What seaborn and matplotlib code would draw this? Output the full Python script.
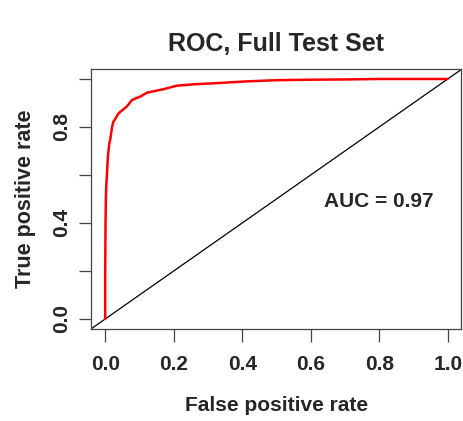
import numpy as np
import pandas as pd
import matplotlib
matplotlib.use('Agg')
import matplotlib.pyplot as plt
import seaborn as sns

# ROC curve points
fpr = [0.0, 0.0, 0.001, 0.002, 0.003, 0.005, 0.008, 0.012, 0.015, 0.02, 0.024,
       0.03, 0.039, 0.05, 0.063, 0.078, 0.09, 0.102, 0.122, 0.145, 0.169,
       0.209, 0.26, 0.316, 0.413, 0.5, 0.6, 0.7, 0.8, 0.9, 1.0]
tpr = [0.0, 0.2, 0.4, 0.5, 0.55, 0.6, 0.68, 0.73, 0.75, 0.8, 0.822,
       0.835, 0.857, 0.87, 0.885, 0.912, 0.92, 0.926, 0.943, 0.95, 0.957,
       0.972, 0.978, 0.982, 0.99, 0.995, 0.997, 0.998, 1.0, 1.0, 1.0]
auc_text = 'AUC = 0.97'
tick_vals = [0.0, 0.2, 0.4, 0.6, 0.8, 1.0]
ytick_labels = ['0.0', '', '0.4', '', '0.8', '']

roc = pd.DataFrame({'fpr': fpr, 'tpr': tpr})

sns.set_style('white')
plt.rcParams['font.family'] = ['Liberation Sans', 'DejaVu Sans']
plt.rcParams['font.weight'] = 'bold'

fig = plt.figure(figsize=(4.63, 4.21), dpi=100)
ax = fig.add_axes([0.1976, 0.2195, 0.799, 0.6157])

# diagonal de referencia (como abline en R)
ax.axline((0, 0), (1, 1), color='black', lw=0.9, zorder=1)

sns.lineplot(data=roc, x='fpr', y='tpr', sort=False, estimator=None,
             color='red', lw=1.8, ax=ax, zorder=2)

ax.set_xlim(-0.04, 1.04)
ax.set_ylim(-0.04, 1.04)

ax.set_xticks(tick_vals)
ax.set_xticklabels(['%.1f' % v for v in tick_vals])
ax.set_yticks(tick_vals)
ax.set_yticklabels(ytick_labels, rotation=90, va='center')

ax.tick_params(axis='both', direction='out', length=9, width=0.9,
               color='#444444', labelsize=15, bottom=True, left=True)
ax.tick_params(axis='x', pad=10)
ax.tick_params(axis='y', pad=6)
for lbl in ax.get_xticklabels() + ax.get_yticklabels():
    lbl.set_fontweight('bold')

for s in ax.spines.values():
    s.set_color('#444444')
    s.set_linewidth(0.9)

ax.set_xlabel('False positive rate', fontsize=15, fontweight='bold', labelpad=16)
ax.set_ylabel('True positive rate', fontsize=15.5, fontweight='bold', labelpad=11)
ax.set_title('ROC, Full Test Set', fontsize=18, fontweight='bold', pad=13)

ax.text(0.80, 0.49, auc_text, fontsize=15, fontweight='bold',
        ha='center', va='center')

fig.savefig('out.png', dpi=100)
